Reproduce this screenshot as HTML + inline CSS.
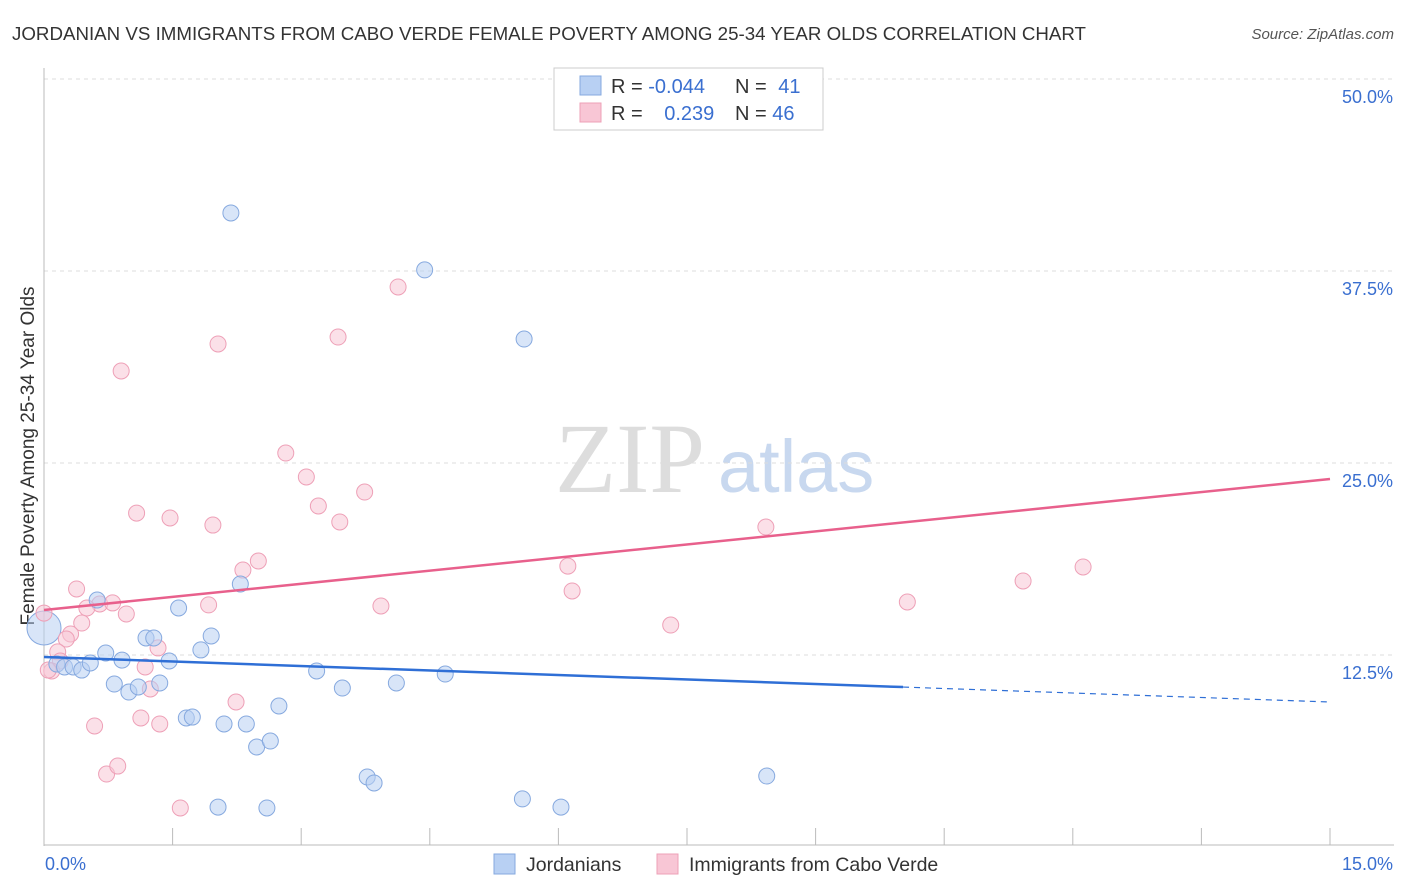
<!DOCTYPE html>
<html><head><meta charset="utf-8"><style>
body{margin:0;background:#fff;font-family:"Liberation Sans",sans-serif;}
svg{display:block}
</style></head><body>
<svg id="c" width="1406" height="892">
<text x="12" y="40" font-size="18" fill="#333" textLength="1074" lengthAdjust="spacingAndGlyphs">JORDANIAN VS IMMIGRANTS FROM CABO VERDE FEMALE POVERTY AMONG 25-34 YEAR OLDS CORRELATION CHART</text>
<text x="1394" y="39" font-size="15" fill="#555" font-style="italic" text-anchor="end">Source: ZipAtlas.com</text>
<text x="555" y="492" font-size="100" fill="#ddd" font-family="Liberation Serif,serif">ZIP</text>
<text x="718" y="492" font-size="74" fill="#c8d8ef">atlas</text>
<text transform="translate(34,456) rotate(-90)" font-size="19" fill="#333" text-anchor="middle">Female Poverty Among 25-34 Year Olds</text>
<g id="grid"></g><g id="pts"></g><g id="lines"></g>
<g>
<rect x="554" y="68" width="269" height="62" fill="#fff" stroke="#ccc"/>
<rect x="580" y="76" width="21" height="19" fill="#b8d0f3" stroke="#86a9df"/>
<rect x="580" y="103" width="21" height="19" fill="#f8c6d5" stroke="#eea0b7"/>
<text x="611" y="93" font-size="20" fill="#333">R = <tspan fill="#3a6fd0">-0.044</tspan></text>
<text x="735" y="93" font-size="20" fill="#333">N = <tspan fill="#3a6fd0" dx="6">41</tspan></text>
<text x="611" y="120" font-size="20" fill="#333">R = <tspan fill="#3a6fd0" dx="16">0.239</tspan></text>
<text x="735" y="120" font-size="20" fill="#333">N = <tspan fill="#3a6fd0">46</tspan></text>
</g>
<g>
<rect x="494" y="854" width="21" height="20" fill="#b8d0f3" stroke="#86a9df"/>
<text x="526" y="871" font-size="19.5" fill="#333">Jordanians</text>
<rect x="657" y="854" width="21" height="20" fill="#f8c6d5" stroke="#eea0b7"/>
<text x="689" y="871" font-size="19.5" fill="#333">Immigrants from Cabo Verde</text>
</g>
</svg>
<script>
const blueX=[2.18,4.44,5.60,0.15,0.24,0.34,0.44,0.54,0.62,0.72,0.82,0.91,0.99,1.10,1.19,1.28,1.35,1.46,1.57,1.66,1.73,1.83,1.95,2.10,2.29,2.36,2.48,2.64,2.74,2.03,2.60,3.18,3.48,3.77,3.85,4.11,4.68,5.58,6.03,8.43];
const blueY=[41.28,37.57,33.07,11.91,11.72,11.72,11.52,11.98,16.08,12.63,10.61,12.17,10.09,10.42,13.61,13.61,10.68,12.11,15.56,8.40,8.46,12.83,13.74,8.01,17.12,8.01,6.51,6.90,9.18,2.60,2.54,11.46,10.35,4.56,4.17,10.68,11.26,3.13,2.60,4.62];
const pinkX=[0.90,2.03,3.43,4.13,2.82,3.06,3.74,3.20,3.45,1.08,1.47,1.97,2.50,2.32,1.92,3.93,0.38,0.65,0.80,0.50,0.96,0.44,0.31,0.26,0.16,0.19,0.09,0,1.18,1.33,1.24,1.13,1.35,0.59,2.24,0.73,0.86,1.59,6.11,6.16,7.31,8.42,10.07,11.42,12.12,0.05];
const pinkY=[30.99,32.75,33.20,36.46,25.65,24.09,23.11,22.20,21.16,21.74,21.42,20.96,18.62,18.03,15.76,15.69,16.80,15.82,15.89,15.56,15.17,14.58,13.87,13.54,12.70,12.11,11.46,15.23,11.72,12.96,10.29,8.40,8.01,7.88,9.44,4.75,5.27,2.54,18.29,16.67,14.45,20.83,15.95,17.32,18.23,11.52];
const bigX=[0], bigY=[14.26];
const yTicks=[12.5,25,37.5,50];
const xTicks=[0,1.5,3,4.5,6,7.5,9,10.5,12,13.5,15];
const blueLine=[12.37,9.44], blueSolidEnd=10.02, pinkLine=[15.43,23.96];
const X=v=>44+v/15*1286, Y=v=>847-v/12.5*192;
const NS='http://www.w3.org/2000/svg';
function mk(t,a,p){const e=document.createElementNS(NS,t);for(const k in a)e.setAttribute(k,a[k]);p.appendChild(e);return e;}
const g=document.getElementById('grid');
yTicks.forEach(v=>{const l=mk('line',{x1:44,x2:1394,y1:Y(v),y2:Y(v),stroke:'#ddd','stroke-dasharray':'4,4'},g);


const t=mk('text',{x:1393,y:Y(v)+24,'font-size':18,fill:'#3a6fd0','text-anchor':'end'},g);t.textContent=v.toFixed(1)+'%';

});
const ax=mk('line',{x1:44,x2:44,y1:68,y2:846,stroke:'#bbb'},g);


const bx=mk('line',{x1:44,x2:1394,y1:845,y2:845,stroke:'#bbb'},g);


xTicks.forEach(v=>{const l=mk('line',{x1:X(v),x2:X(v),y1:828,y2:845,stroke:'#bbb'},g);

});
[[0,'start',45],[15,'end',1393]].forEach(([v,a,x])=>{const t=mk('text',{x:x,y:870,'font-size':18,fill:'#3a6fd0','text-anchor':a},g);t.textContent=v.toFixed(1)+'%';

});
const p=document.getElementById('pts');
function dots(xs,ys,fill,stroke,r,name){xs.forEach((x,i)=>{const c=mk('circle',{cx:X(x),cy:Y(ys[i]),r:r,fill:fill,stroke:stroke,'fill-opacity':0.55,'stroke-width':1},p);

});}
dots(bigX,bigY,'#b8d0f3','#86a9df',17,'jordanian-point');
dots(pinkX,pinkY,'#f8c6d5','#eea0b7',8,'cabo-verde-point');
dots(blueX,blueY,'#b8d0f3','#86a9df',8,'jordanian-point');
const L=document.getElementById('lines');
const bm=blueLine[0]+(blueLine[1]-blueLine[0])*blueSolidEnd/15;
const b1=mk('line',{x1:X(0),y1:Y(blueLine[0]),x2:X(blueSolidEnd),y2:Y(bm),stroke:'#2f6fd6','stroke-width':2.5},L);


const b2=mk('line',{x1:X(blueSolidEnd),y1:Y(bm),x2:X(15),y2:Y(blueLine[1]),stroke:'#2f6fd6','stroke-width':1.2,'stroke-dasharray':'6,5'},L);


const pl=mk('line',{x1:X(0),y1:Y(pinkLine[0]),x2:X(15),y2:Y(pinkLine[1]),stroke:'#e8608c','stroke-width':2.5},L);


</script>
</body></html>
